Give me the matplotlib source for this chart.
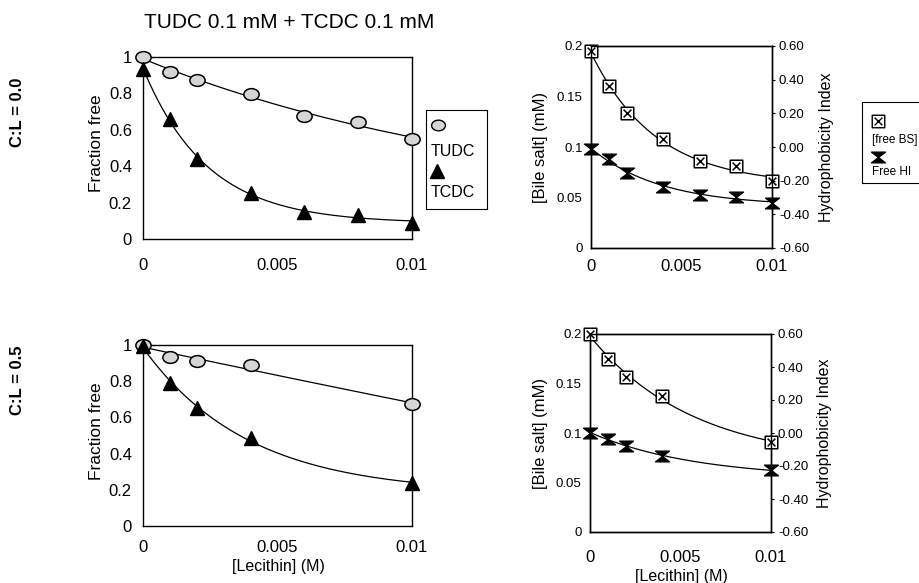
import numpy as np
import matplotlib
matplotlib.use("Agg")
import matplotlib.pyplot as plt
from matplotlib.path import Path
from matplotlib.ticker import FixedLocator, FixedFormatter

plt.rcParams['font.family'] = ['Liberation Sans', 'DejaVu Sans']
plt.rcParams['axes.unicode_minus'] = False

# ---------------- data ----------------
title = "TUDC 0.1 mM + TCDC 0.1 mM"
row_labels = ["C:L = 0.0", "C:L = 0.5"]

lec_top = np.array([0.0, 0.001, 0.002, 0.004, 0.006, 0.008, 0.010])
tudc_top = np.array([1.00, 0.918, 0.873, 0.797, 0.677, 0.641, 0.552])
tcdc_top = np.array([0.936, 0.660, 0.437, 0.254, 0.150, 0.132, 0.087])
freebs_top = np.array([0.195, 0.160, 0.134, 0.108, 0.086, 0.081, 0.066])
freehi_top = np.array([-0.014, -0.073, -0.152, -0.235, -0.284, -0.298, -0.330])

lec_bot = np.array([0.0, 0.001, 0.002, 0.004, 0.010])
tudc_bot = np.array([1.00, 0.936, 0.912, 0.890, 0.674])
tcdc_bot = np.array([0.995, 0.790, 0.650, 0.488, 0.236])
freebs_bot = np.array([0.200, 0.175, 0.157, 0.137, 0.091])
freehi_bot = np.array([0.000, -0.034, -0.081, -0.137, -0.226])

x_ticks = [0, 0.005, 0.01]
x_ticklabels = ["0", "0.005", "0.01"]
frac_ticks = [0, 0.2, 0.4, 0.6, 0.8, 1.0]
frac_ticklabels = ["0", "0.2", "0.4", "0.6", "0.8", "1"]
bs_ticks = [0, 0.05, 0.1, 0.15, 0.2]
bs_ticklabels = ["0", "0.05", "0.1", "0.15", "0.2"]
hi_ticks = [-0.6, -0.4, -0.2, 0.0, 0.2, 0.4, 0.6]
hi_ticklabels = ["-0.60", "-0.40", "-0.20", "0.00", "0.20", "0.40", "0.60"]


# ---------------- helpers ----------------
W, H = 920, 583
fig = plt.figure(figsize=(W / 100, H / 100), dpi=100)


def rect(x0, y0, x1, y1):
    return [x0 / W, 1 - y1 / H, (x1 - x0) / W, (y1 - y0) / H]


def pt(x, y):
    return x / W, 1 - y / H


def fit_decay(x, y):
    """least-squares fit of y = a*exp(-k x) + c to the data points"""
    best = None
    for k in np.linspace(5, 1500, 3000):
        A = np.column_stack([np.exp(-k * x), np.ones_like(x)])
        coef = np.linalg.lstsq(A, y, rcond=None)[0]
        r = np.sum((A @ coef - y) ** 2)
        if best is None or r < best[0]:
            best = (r, k, coef)
    _, k, coef = best
    return lambda xx: coef[0] * np.exp(-k * xx) + coef[1]


# markers
uc = Path.unit_circle()
ellipse = Path(uc.vertices * np.array([1.3, 1.0]), uc.codes)
hourglass = Path([(-1.3, 1), (1.3, 1), (-1.3, -1), (1.3, -1), (-1.3, 1)],
                 [Path.MOVETO, Path.LINETO, Path.LINETO, Path.LINETO, Path.CLOSEPOLY])
d = 0.62
boxx = Path([(-1, -1), (1, -1), (1, 1), (-1, 1), (-1, -1),
             (-d, -d), (d, d), (-d, d), (d, -d)],
            [Path.MOVETO, Path.LINETO, Path.LINETO, Path.LINETO, Path.CLOSEPOLY,
             Path.MOVETO, Path.LINETO, Path.MOVETO, Path.LINETO])

circ_kw = dict(marker=ellipse, markersize=11, markerfacecolor='#d6d6d6',
               markeredgecolor='black', markeredgewidth=1.1, linestyle='none', zorder=5)
tri_kw = dict(marker='^', markersize=10, color='black', linestyle='none', zorder=5)
box_kw = dict(marker=boxx, markersize=9, markerfacecolor='white',
              markeredgecolor='black', markeredgewidth=1.1, linestyle='none', zorder=5)
hg_kw = dict(marker=hourglass, markersize=10, color='black', linestyle='none', zorder=5)
line_kw = dict(color='black', linewidth=0.9, zorder=3)

xx = np.linspace(0, 0.01, 300)


def frac_panel(ax, x, tudc, tcdc, xpad):
    ax.plot(xx, fit_decay(x, tudc)(xx), **line_kw)
    ax.plot(xx, fit_decay(x, tcdc)(xx), **line_kw)
    ax.plot(x, tudc, clip_on=False, **circ_kw)
    ax.plot(x, tcdc, clip_on=False, **tri_kw)
    ax.set_xlim(0, 0.01)
    ax.set_ylim(0, 1)
    ax.xaxis.set_major_locator(FixedLocator(x_ticks))
    ax.xaxis.set_major_formatter(FixedFormatter(x_ticklabels))
    ax.yaxis.set_major_locator(FixedLocator(frac_ticks))
    ax.yaxis.set_major_formatter(FixedFormatter(frac_ticklabels))
    ax.tick_params(axis='x', length=0, pad=xpad, labelsize=12)
    ax.tick_params(axis='y', length=0, pad=8, labelsize=12)
    for s in ax.spines.values():
        s.set_linewidth(1.0)


def bs_panel(ax, x, bs, hi, xpad):
    ax2 = ax.twinx()
    ax.plot(xx, fit_decay(x, bs)(xx), **line_kw)
    ax.plot(x, bs, clip_on=False, **box_kw)
    ax2.plot(xx, fit_decay(x, hi)(xx), **line_kw)
    ax2.plot(x, hi, clip_on=False, **hg_kw)
    ax.set_xlim(0, 0.01)
    ax.set_ylim(0, 0.2)
    ax2.set_ylim(-0.6, 0.6)
    ax.xaxis.set_major_locator(FixedLocator(x_ticks))
    ax.xaxis.set_major_formatter(FixedFormatter(x_ticklabels))
    ax.yaxis.set_major_locator(FixedLocator(bs_ticks))
    ax.yaxis.set_major_formatter(FixedFormatter(bs_ticklabels))
    ax2.yaxis.set_major_locator(FixedLocator(hi_ticks))
    ax2.yaxis.set_major_formatter(FixedFormatter(hi_ticklabels))
    ax.tick_params(axis='x', length=0, pad=xpad, labelsize=12)
    ax.tick_params(axis='y', length=0, pad=6, labelsize=9.5)
    ax2.tick_params(axis='y', length=2, pad=3, labelsize=9.5)
    for a in (ax, ax2):
        for s in a.spines.values():
            s.set_linewidth(1.0)


ax1 = fig.add_axes(rect(143, 57, 412, 239))
frac_panel(ax1, lec_top, tudc_top, tcdc_top, xpad=14)
ax3 = fig.add_axes(rect(143, 345, 412, 526))
frac_panel(ax3, lec_bot, tudc_bot, tcdc_bot, xpad=10)

ax2 = fig.add_axes(rect(591, 46, 772, 248))
bs_panel(ax2, lec_top, freebs_top, freehi_top, xpad=8)
ax4 = fig.add_axes(rect(590, 334, 771, 532))
bs_panel(ax4, lec_bot, freebs_bot, freehi_bot, xpad=13)

# ---------------- texts ----------------
fig.text(*pt(289, 23), title, ha='center', va='center', fontsize=15)
fig.text(*pt(18, 112), row_labels[0], rotation=90, ha='center', va='center',
         fontsize=12, fontweight='bold')
fig.text(*pt(18, 380), row_labels[1], rotation=90, ha='center', va='center',
         fontsize=12, fontweight='bold')
for yc in (143, 431):
    fig.text(*pt(97, yc), "Fraction free", rotation=90, ha='center', va='center', fontsize=12.5)
for yc, xc in ((147, 541), (433, 541)):
    fig.text(*pt(xc, yc), "[Bile salt] (mM)", rotation=90, ha='center', va='center', fontsize=12)
fig.text(*pt(827, 147), "Hydrophobicity Index", rotation=90, ha='center', va='center', fontsize=11.5)
fig.text(*pt(825, 433), "Hydrophobicity Index", rotation=90, ha='center', va='center', fontsize=11.5)
fig.text(*pt(278, 566), "[Lecithin] (M)", ha='center', va='center', fontsize=11.5)
fig.text(*pt(681, 577), "[Lecithin] (M)", ha='center', va='center', fontsize=11.5)

# ---------------- legends ----------------
lg1 = fig.add_axes(rect(426, 110, 487, 209))
lg1.set_xlim(426, 487)
lg1.set_ylim(209, 110)
lg1.set_xticks([])
lg1.set_yticks([])
lg1.plot([438], [125], marker=ellipse, markersize=10, markerfacecolor='#d6d6d6',
         markeredgecolor='black', markeredgewidth=1.0, linestyle='none')
lg1.text(431, 152, "TUDC", ha='left', va='center', fontsize=11.5)
lg1.plot([437], [171], marker='^', markersize=10, color='black', linestyle='none')
lg1.text(431, 193, "TCDC", ha='left', va='center', fontsize=11.5)

lg2 = fig.add_axes(rect(862, 102, 940, 183))
lg2.set_xlim(862, 940)
lg2.set_ylim(183, 102)
lg2.set_xticks([])
lg2.set_yticks([])
lg2.plot([878], [121], marker=boxx, markersize=9, markerfacecolor='white',
         markeredgecolor='black', markeredgewidth=1.0, linestyle='none')
lg2.text(872, 140, "[free BS]", ha='left', va='center', fontsize=8.5)
lg2.plot([878], [157], marker=hourglass, markersize=10, color='black', linestyle='none')
lg2.text(872, 172, "Free HI", ha='left', va='center', fontsize=8.5)

fig.savefig("out.png", dpi=100)
